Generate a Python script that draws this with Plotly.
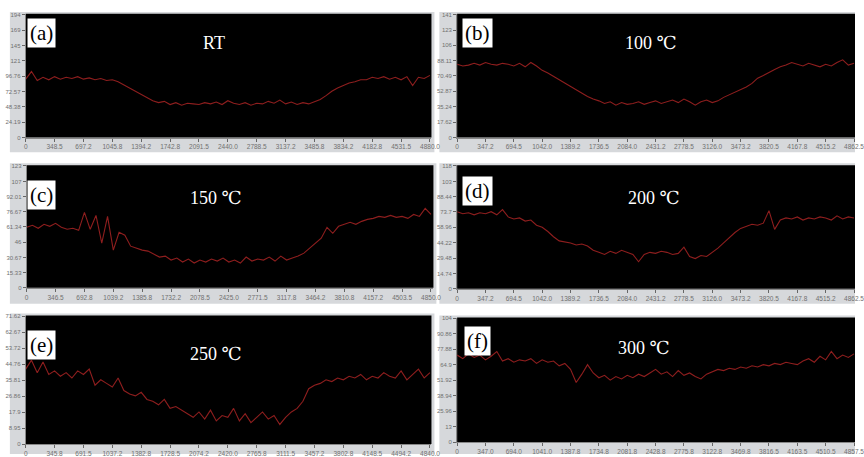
import numpy as np
import plotly.graph_objects as go

W, H = 864, 457

# ---------------- data ----------------
panel_labels = ["(a)", "(b)", "(c)", "(d)", "(e)", "(f)"]
panel_titles = ["RT", "100 ℃", "150 ℃", "200 ℃", "250 ℃", "300 ℃"]

a_y = [92, 104, 90, 95, 91, 96, 92, 95, 93, 96, 92, 94, 91, 93, 90, 91, 88, 83, 78, 72,
       68, 62, 58, 55, 57, 52, 55, 51, 54, 53, 52, 55, 53, 56, 52, 58, 54, 52, 55, 51,
       54, 53, 57, 54, 59, 53, 56, 52, 55, 53, 56, 60, 66, 73, 78, 82, 86, 88, 91, 91,
       95, 93, 96, 92, 95, 91, 96, 82, 95, 93, 98]
b_y = [84, 82, 83, 85, 83, 86, 84, 83, 85, 84, 82, 85, 81, 86, 82, 77, 74, 70, 66, 62,
       58, 54, 50, 47, 44, 42, 39, 41, 37, 40, 38, 39, 41, 38, 40, 42, 39, 41, 43, 40,
       44, 41, 37, 41, 43, 40, 42, 46, 49, 52, 55, 58, 62, 68, 71, 75, 78, 81, 83, 86,
       84, 82, 85, 83, 81, 84, 82, 86, 89, 83, 85]
c_y = [61, 63, 60, 64, 62, 65, 61, 59, 60, 58, 76, 59, 73, 45, 72, 38, 56, 53, 42, 40,
       38, 37, 34, 31, 32, 28, 30, 26, 29, 25, 28, 26, 29, 27, 30, 26, 28, 25, 31, 27,
       29, 28, 31, 27, 32, 28, 30, 32, 35, 40, 45, 50, 61, 55, 62, 64, 66, 64, 67, 69,
       70, 72, 71, 73, 71, 72, 70, 74, 72, 80, 74]
d_y = [74, 72, 73, 71, 73, 72, 74, 71, 76, 69, 67, 68, 65, 66, 61, 59, 55, 50, 46, 45,
       44, 42, 43, 41, 37, 35, 33, 36, 34, 37, 35, 33, 26, 33, 35, 34, 36, 35, 33, 34,
       40, 31, 29, 32, 31, 35, 39, 44, 49, 54, 58, 60, 62, 61, 63, 75, 57, 66, 68, 67,
       69, 66, 68, 67, 69, 68, 66, 70, 67, 69, 68]
e_y = [42, 47, 40, 46, 39, 41, 38, 40, 37, 41, 39, 42, 33, 36, 34, 32, 37, 30, 28, 27,
       29, 25, 24, 22, 25, 20, 21, 19, 17, 15, 18, 14, 19, 13, 16, 15, 20, 13, 17, 12,
       15, 18, 14, 16, 11, 15, 18, 20, 24, 31, 33, 34, 36, 35, 37, 36, 38, 37, 39, 36,
       38, 37, 40, 38, 37, 41, 36, 39, 42, 37, 40]
f_y = [73, 70, 74, 71, 73, 69, 72, 76, 68, 70, 67, 69, 68, 70, 66, 69, 67, 68, 64, 66,
       61, 50, 57, 65, 58, 54, 56, 52, 55, 53, 56, 54, 57, 55, 58, 61, 57, 59, 55, 60,
       56, 58, 55, 53, 57, 59, 61, 60, 62, 61, 63, 62, 64, 63, 65, 64, 66, 65, 67, 66,
       65, 68, 70, 67, 72, 69, 76, 70, 73, 71, 74]
series_y = [a_y, b_y, c_y, d_y, e_y, f_y]

x_ticks = [
    ["0", "348.5", "697.2", "1045.8", "1394.2", "1742.8", "2091.5", "2440.0", "2788.5",
     "3137.2", "3485.8", "3834.2", "4182.8", "4531.5", "4880.0"],
    ["0", "347.2", "694.5", "1042.0", "1389.2", "1736.5", "2084.0", "2431.2", "2778.5",
     "3126.0", "3473.2", "3820.5", "4167.8", "4515.2", "4862.5"],
    ["0", "346.5", "692.8", "1039.2", "1385.8", "1732.2", "2078.5", "2425.0", "2771.5",
     "3117.8", "3464.2", "3810.8", "4157.2", "4503.5", "4850.0"],
    ["0", "347.2", "694.5", "1042.0", "1389.2", "1736.5", "2084.0", "2431.2", "2778.5",
     "3126.0", "3473.2", "3820.5", "4167.8", "4515.2", "4862.5"],
    ["0", "345.8", "691.5", "1037.2", "1382.8", "1728.5", "2074.2", "2420.0", "2765.8",
     "3111.5", "3457.2", "3802.8", "4148.5", "4494.2", "4840.0"],
    ["0", "347.0", "694.0", "1041.0", "1387.8", "1734.8", "2081.8", "2428.8", "2775.8",
     "3122.8", "3469.8", "3816.5", "4163.5", "4510.5", "4857.5"],
]
y_ticks = [
    ["0", "24.19", "48.38", "72.57", "96.76", "121", "145", "169", "194"],
    ["0", "17.62", "35.24", "52.87", "70.49", "88.11", "106", "123", "141"],
    ["0", "15.33", "30.67", "46", "61.34", "76.67", "92.01", "107", "123"],
    ["0", "14.74", "29.48", "44.22", "58.96", "73.7", "88.44", "103", "118"],
    ["0", "8.95", "17.9", "26.86", "35.81", "44.76", "53.72", "62.67", "71.62"],
    ["0", "13", "25.96", "38.94", "51.92", "64.9", "77.88", "90.86", "104"],
]

# ---------------- layout geometry (pixels) ----------------
plot_px = [  # x0, x1, y0(top), y1(bottom)
    (24, 435, 12, 137), (461, 864, 12, 137),
    (25, 437, 165, 289), (461, 864, 165, 290),
    (24, 435, 317, 447), (461, 864, 319, 445),
]
gray_px = [
    (8, 438, 10, 152), (443, 864, 10, 152),
    (8, 440, 163, 305), (443, 864, 163, 305),
    (8, 438, 315, 457), (443, 864, 317, 457),
]
label_px = [(40, 31), (482, 31), (40, 195), (482, 191), (40, 347), (482, 343)]
title_px = [(215, 41), (657, 41), (217, 198), (660, 198), (217, 356), (650, 350)]
last_tick_px = [433.5, 863, 434.5, 863, 433.5, 863]


def px2x(p):
    return p / W


def px2y(p):
    return 1 - p / H


fig = go.Figure()
layout = dict(width=W, height=H, margin=dict(l=0, r=0, t=0, b=0),
              paper_bgcolor="white", plot_bgcolor="rgba(0,0,0,0)", showlegend=False,
              shapes=[], annotations=[])

tickfont_family = "Arial, Liberation Sans, sans-serif"
serif = "Liberation Serif, DejaVu Serif, serif"

for k in range(6):
    n = k + 1
    xs = "x" if n == 1 else f"x{n}"
    ys = "y" if n == 1 else f"y{n}"
    xt = [float(t) for t in x_ticks[k]]
    yt = [float(t) for t in y_ticks[k]]
    yv = series_y[k]
    xv = np.linspace(0, xt[-1], len(yv))
    fig.add_trace(go.Scatter(x=xv, y=yv, mode="lines", xaxis=xs, yaxis=ys,
                             line=dict(color="#8e1e1e", width=1.1), hoverinfo="skip"))
    x0, x1, t0, t1 = plot_px[k]
    xmax = xt[-1] * (x1 - x0) / (last_tick_px[k] - x0)
    axx = dict(domain=[px2x(x0), px2x(x1)], range=[0, xmax], anchor=ys,
               tickmode="array", tickvals=xt, ticktext=x_ticks[k],
               ticks="outside", ticklen=3, tickcolor="#666", showgrid=False,
               zeroline=False, showline=True, linecolor="#888", linewidth=1,
               ticklabeloverflow="allow",
               tickfont=dict(size=6.5, color="#707070", family=tickfont_family))
    axy = dict(domain=[px2y(t1), px2y(t0)], range=[0, yt[-1] * 1.005], anchor=xs,
               tickmode="array", tickvals=yt, ticktext=y_ticks[k],
               ticks="outside", ticklen=3, tickcolor="#666", showgrid=False,
               zeroline=False, showline=True, linecolor="#888", linewidth=1,
               ticklabeloverflow="allow",
               tickfont=dict(size=6, color="#707070", family=tickfont_family))
    layout["xaxis" if n == 1 else f"xaxis{n}"] = axx
    layout["yaxis" if n == 1 else f"yaxis{n}"] = axy

    gx0, gx1, gy0, gy1 = gray_px[k]
    layout["shapes"].append(dict(type="rect", xref="paper", yref="paper", layer="below",
                                 x0=px2x(gx0), x1=px2x(gx1), y0=px2y(gy1), y1=px2y(gy0),
                                 fillcolor="#d6d8db", line=dict(width=0)))
    layout["shapes"].append(dict(type="rect", xref="paper", yref="paper", layer="below",
                                 x0=px2x(x0), x1=px2x(x1), y0=px2y(t1), y1=px2y(t0),
                                 fillcolor="black", line=dict(width=0)))
    lx, ly = label_px[k]
    layout["annotations"].append(dict(text=panel_labels[k], xref="paper", yref="paper",
                                      x=px2x(lx), y=px2y(ly), showarrow=False,
                                      xanchor="center", yanchor="middle",
                                      bgcolor="white", borderpad=2,
                                      font=dict(size=21, color="black", family=serif)))
    tx, ty = title_px[k]
    layout["annotations"].append(dict(text=panel_titles[k], xref="paper", yref="paper",
                                      x=px2x(tx), y=px2y(ty), showarrow=False,
                                      xanchor="center", yanchor="middle",
                                      font=dict(size=18, color="white", family=serif)))

fig.update_layout(**layout)
fig.write_html("out.html")
